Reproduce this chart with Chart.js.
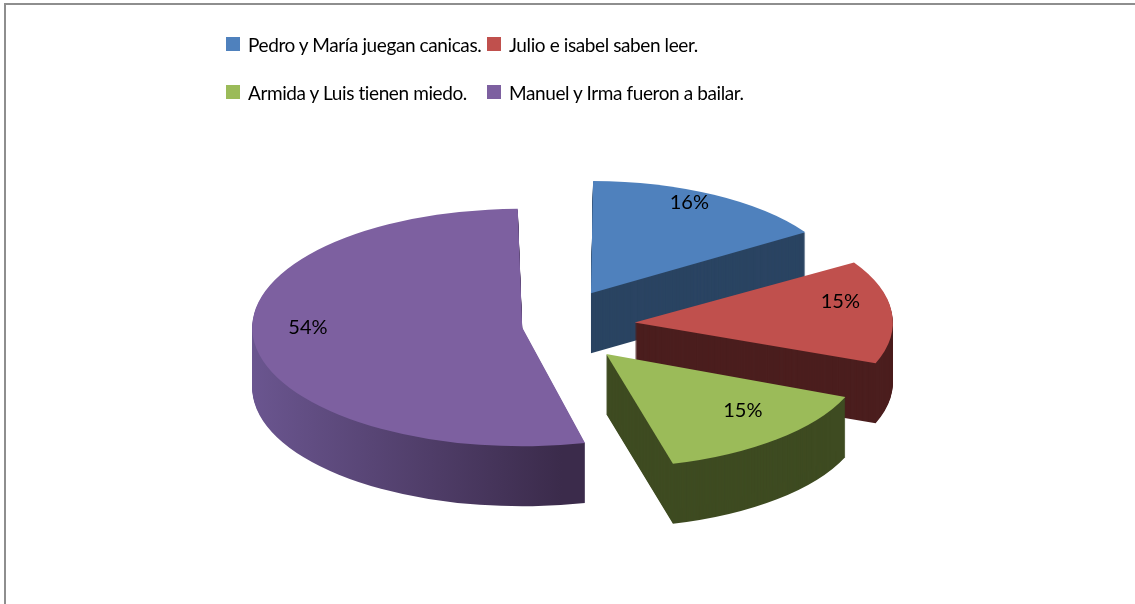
<!DOCTYPE html>
<html>
<head>
<meta charset="utf-8">
<script src="https://cdn.jsdelivr.net/npm/chart.js@4.4.1/dist/chart.umd.min.js"></script>
<style>
  body { margin: 0; background: #fff; width: 1135px; height: 604px; overflow: hidden; position: relative; font-family: Lato, "Open Sans", sans-serif; }
  #frame { position: absolute; left: 4px; top: 3px; right: 0; bottom: -10px; border-left: 2px solid #8e8e8e; border-top: 2px solid #8e8e8e; }
  #chart { position: absolute; left: 0; top: 0; }
  #legend { position: absolute; left: 226px; top: 30px; display: grid; grid-template-columns: 261px auto; row-gap: 20px; }
  .item { display: flex; align-items: center; height: 28px; font-size: 19px; letter-spacing: -0.4px; color: #000; white-space: nowrap; }
  .box { flex: 0 0 14px; width: 14px; height: 14px; margin-right: 8px; }
</style>
</head>
<body>
<div id="frame"></div>
<canvas id="chart" width="1135" height="604"></canvas>
<div id="legend"></div>
<script>
var labels = ["Pedro y María juegan canicas.", "Julio e isabel saben leer.", "Armida y Luis tienen miedo.", "Manuel y Irma fueron a bailar."];
var values = [16, 15, 15, 54];

var topColors = ["#4f81bd", "#c0504d", "#9bbb59", "#7d60a0"];
var sideColors = ["#2a4462", "#4b1e1e", "#3e4b21", null];
var explode = [340, 340, 340, 112];

var SQUASH = 0.44;   // vertical tilt of the pie
var DEPTH = 60;      // thickness in px

// legend (two columns like the original)
var leg = document.getElementById("legend");
labels.forEach(function(l, i) {
    var d = document.createElement("div");
    d.className = "item";
    d.innerHTML = '<span class="box" style="background:' + topColors[i] + '"></span>' + l;
    leg.appendChild(d);
});

var total = values.reduce(function(a, b) { return a + b; }, 0);

var pie3d = {
    id: "pie3d",
    beforeDatasetsDraw: function(chart) {
        var ctx = chart.ctx;
        var arcs = chart.getDatasetMeta(0).data;
        var cx = arcs[0].x, cy = arcs[0].y, r = arcs[0].outerRadius;
        ctx.save();
        ctx.translate(cx, cy);
        ctx.scale(1, SQUASH);
        ctx.translate(-cx, -cy);

        var grad = ctx.createLinearGradient(cx - r - 40, 0, cx + 40, 0);
        grad.addColorStop(0, "#6c5792");
        grad.addColorStop(1, "#3b2b4b");
        var sides = sideColors.map(function(c) { return c || grad; });

        // extrude: stack darker copies of each slice below the top face
        for (var d = DEPTH; d >= 1; d--) {
            ctx.save();
            ctx.translate(0, d / SQUASH);
            arcs.forEach(function(arc, i) {
                var ghost = Object.create(arc);
                ghost.options = Object.assign({}, arc.options, { backgroundColor: sides[i], borderWidth: 0 });
                ghost.draw(ctx);
            });
            ctx.restore();
        }
    },
    afterDatasetsDraw: function(chart) {
        var ctx = chart.ctx;
        ctx.restore();
        var arcs = chart.getDatasetMeta(0).data;
        ctx.save();
        ctx.font = "20px Lato, 'Open Sans', sans-serif";
        ctx.fillStyle = "#000";
        ctx.textAlign = "center";
        ctx.textBaseline = "middle";
        arcs.forEach(function(arc, i) {
            var mid = (arc.startAngle + arc.endAngle) / 2;
            var t = (arc.options.offset || 0) / 4;
            var fix = 1 - Math.sin(Math.min(Math.PI, arc.circumference));
            var rr = (arc.outerRadius + t * fix) * 0.8 + t;
            var x = arc.x + Math.cos(mid) * rr;
            var y = arc.y + Math.sin(mid) * rr * SQUASH - 12;
            ctx.fillText(Math.round(values[i] / total * 100) + "%", x, y);
        });
        ctx.restore();
    }
};

new Chart(document.getElementById("chart"), {
    type: "pie",
    data: {
        labels: labels,
        datasets: [{
            data: values,
            backgroundColor: topColors,
            borderWidth: 0,
            offset: explode,
            clip: false
        }]
    },
    options: {
        responsive: false,
        animation: false,
        events: [],
        radius: 242,
        layout: { padding: { left: 0, right: 35, top: 48, bottom: 0 } },
        plugins: {
            legend: { display: false },
            tooltip: { enabled: false }
        }
    },
    plugins: [pie3d]
});
</script>
</body>
</html>
